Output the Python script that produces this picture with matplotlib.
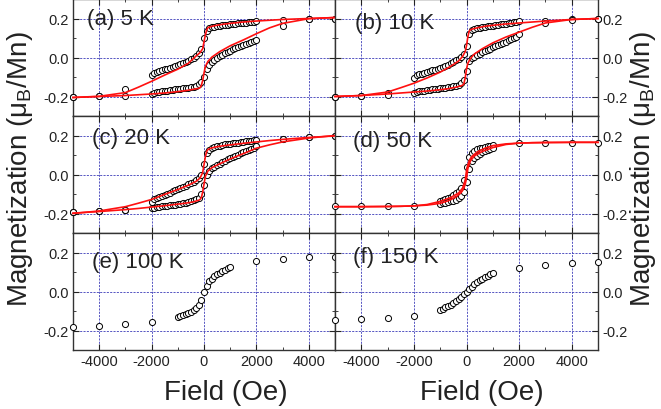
"""Hysteresis loops M(H) at 5-150 K, six stacked panels with shared field axis."""
import numpy as np
import matplotlib; matplotlib.use("Agg"); import matplotlib.pyplot as plt
from matplotlib.ticker import MultipleLocator, FormatStrFormatter

plt.rcParams["font.family"] = ["Liberation Sans", "DejaVu Sans"]
plt.rcParams["axes.unicode_minus"] = False

# ---- data ----
H_OUT = [-5000, -4000, -3000, 3000, 4000, 5000]
H_FAR = [-5000, -4000, -3000, -2000, 2000, 3000, 4000, 5000]
H_WIDE = [-2000, -1900, -1800, -1700, -1600, -1500, -1400, -1300, -1200, -1100, -1000,
          -900, -800, -700, -600, -500, -400, -300, -200, -100, 0,
          100, 200, 300, 400, 500, 600, 700, 800, 900, 1000,
          1100, 1200, 1300, 1400, 1500, 1600, 1700, 1800, 1900, 2000]
H_NARROW = [-1000, -900, -800, -700, -600, -500, -400, -300, -200, -100, 0,
            100, 200, 300, 400, 500, 600, 700, 800, 900, 1000]
FIT_H_UP = [-5000, -4000, -3000, -2500, -2000, -1500, -1000, -600, -300, -150, -50, 0, 50,
            100, 150, 200, 400, 700, 1000, 1500, 2000, 2500, 3000, 4000, 5000]
FIT_H_DN = [-5000, -4000, -3000, -2500, -2000, -1500, -1000, -700, -400, -200, -150, -100, -50,
            0, 50, 150, 300, 600, 1000, 1500, 2000, 2500, 3000, 4000, 5000]

# (a) 5 K
a_up_out = [-0.200, -0.198, -0.163, 0.190, 0.197, 0.200]
a_dn_out = [-0.200, -0.195, -0.198, 0.160, 0.195, 0.200]
a_up = [-0.090, -0.078, -0.073, -0.069, -0.065, -0.061, -0.057, -0.053, -0.048, -0.044, -0.039,
        -0.034, -0.029, -0.023, -0.017, -0.010, -0.002, 0.008, 0.022, 0.045, 0.100,
        0.138, 0.150, 0.155, 0.158, 0.161, 0.163, 0.165, 0.167, 0.169, 0.170,
        0.172, 0.173, 0.175, 0.176, 0.177, 0.179, 0.180, 0.181, 0.182, 0.185]
a_dn = [-0.185, -0.181, -0.178, -0.176, -0.174, -0.172, -0.170, -0.168, -0.166, -0.164, -0.162,
        -0.160, -0.158, -0.156, -0.154, -0.152, -0.149, -0.145, -0.138, -0.125, -0.100,
        -0.060, -0.036, -0.022, -0.012, -0.003, 0.006, 0.014, 0.021, 0.028, 0.035,
        0.042, 0.048, 0.054, 0.060, 0.066, 0.071, 0.076, 0.081, 0.086, 0.092]
a_fit_up = [-0.205, -0.199, -0.180, -0.152, -0.122, -0.090, -0.060, -0.030, 0.008, 0.025, 0.045, 0.080, 0.115,
            0.140, 0.153, 0.156, 0.163, 0.170, 0.175, 0.182, 0.187, 0.191, 0.195, 0.200, 0.205]
a_fit_dn = [-0.205, -0.200, -0.195, -0.191, -0.187, -0.182, -0.175, -0.170, -0.163, -0.158, -0.155, -0.143, -0.118,
            -0.080, -0.047, -0.020, 0.002, 0.030, 0.060, 0.090, 0.122, 0.152, 0.175, 0.199, 0.205]

# (b) 10 K
b_up_out = [-0.200, -0.196, -0.182, 0.185, 0.195, 0.200]
b_dn_out = [-0.200, -0.196, -0.193, 0.175, 0.193, 0.200]
b_up = [-0.104, -0.092, -0.087, -0.083, -0.079, -0.075, -0.071, -0.066, -0.062, -0.057, -0.052,
        -0.047, -0.042, -0.036, -0.030, -0.023, -0.015, -0.006, 0.005, 0.020, 0.060,
        0.118, 0.140, 0.146, 0.150, 0.153, 0.156, 0.158, 0.160, 0.162, 0.164,
        0.166, 0.168, 0.170, 0.172, 0.174, 0.176, 0.178, 0.180, 0.182, 0.186]
b_dn = [-0.182, -0.176, -0.174, -0.172, -0.170, -0.168, -0.166, -0.164, -0.162, -0.160, -0.158,
        -0.156, -0.154, -0.152, -0.150, -0.147, -0.144, -0.140, -0.133, -0.115, -0.070,
        -0.020, -0.005, 0.005, 0.013, 0.020, 0.027, 0.034, 0.040, 0.046, 0.052,
        0.058, 0.064, 0.070, 0.076, 0.082, 0.088, 0.094, 0.100, 0.106, 0.118]
b_fit_up = [-0.200, -0.195, -0.177, -0.155, -0.132, -0.105, -0.075, -0.045, -0.018, 0.005, 0.030, 0.060, 0.105,
            0.135, 0.142, 0.145, 0.152, 0.160, 0.165, 0.172, 0.177, 0.182, 0.187, 0.195, 0.200]
b_fit_dn = [-0.200, -0.195, -0.187, -0.182, -0.177, -0.172, -0.165, -0.160, -0.152, -0.145, -0.142, -0.135, -0.105,
            -0.060, -0.030, -0.005, 0.018, 0.045, 0.075, 0.105, 0.130, 0.155, 0.177, 0.195, 0.200]

# (c) 20 K
c_up_out = [-0.190, -0.187, -0.181, 0.182, 0.190, 0.200]
c_dn_out = [-0.190, -0.187, -0.181, 0.180, 0.190, 0.200]
c_up = [-0.140, -0.128, -0.122, -0.117, -0.111, -0.105, -0.099, -0.093, -0.087, -0.081, -0.075,
        -0.069, -0.063, -0.057, -0.050, -0.043, -0.036, -0.028, -0.018, 0.000, 0.055,
        0.110, 0.128, 0.136, 0.141, 0.145, 0.148, 0.151, 0.154, 0.156, 0.158,
        0.160, 0.162, 0.164, 0.166, 0.168, 0.170, 0.172, 0.174, 0.175, 0.177]
c_dn = [-0.174, -0.170, -0.168, -0.166, -0.164, -0.162, -0.160, -0.158, -0.156, -0.154, -0.152,
        -0.150, -0.147, -0.144, -0.141, -0.137, -0.133, -0.128, -0.120, -0.100, -0.052,
        0.000, 0.020, 0.032, 0.041, 0.049, 0.056, 0.063, 0.070, 0.077, 0.084,
        0.090, 0.096, 0.102, 0.108, 0.114, 0.120, 0.126, 0.132, 0.138, 0.146]
c_fit_up = [-0.200, -0.187, -0.165, -0.147, -0.128, -0.102, -0.077, -0.055, -0.035, -0.018, 0.010, 0.050, 0.090,
            0.118, 0.128, 0.132, 0.140, 0.147, 0.152, 0.160, 0.167, 0.174, 0.180, 0.190, 0.198]
c_fit_dn = [-0.198, -0.190, -0.180, -0.174, -0.167, -0.160, -0.152, -0.147, -0.140, -0.132, -0.128, -0.118, -0.090,
            -0.050, -0.010, 0.018, 0.035, 0.055, 0.080, 0.107, 0.135, 0.152, 0.167, 0.187, 0.200]

# (d) 50 K
d_out = [-0.163, -0.163, -0.163, -0.162, 0.160, 0.163, 0.163, 0.163]
d_up = [-0.138, -0.133, -0.127, -0.120, -0.113, -0.105, -0.096, -0.085, -0.070, -0.030, 0.040,
        0.090, 0.112, 0.122, 0.129, 0.134, 0.138, 0.141, 0.144, 0.147, 0.150]
d_dn = [-0.150, -0.147, -0.144, -0.141, -0.138, -0.134, -0.129, -0.122, -0.112, -0.090, -0.040,
        0.030, 0.070, 0.085, 0.096, 0.105, 0.113, 0.120, 0.127, 0.133, 0.138]
d_fit_up = [-0.165, -0.165, -0.164, -0.163, -0.161, -0.154, -0.138, -0.118, -0.095, -0.070, -0.030, 0.020, 0.050,
            0.070, 0.082, 0.092, 0.115, 0.135, 0.148, 0.157, 0.161, 0.163, 0.164, 0.165, 0.165]
d_fit_dn = [-0.165, -0.165, -0.164, -0.163, -0.161, -0.157, -0.148, -0.135, -0.115, -0.092, -0.082, -0.070, -0.050,
            -0.020, 0.030, 0.070, 0.095, 0.118, 0.138, 0.154, 0.161, 0.163, 0.164, 0.165, 0.165]

# (e) 100 K, (f) 150 K  (no hysteresis, no fit)
e_out = [-0.181, -0.176, -0.169, -0.157, 0.154, 0.169, 0.176, 0.178]
e_mid = [-0.132, -0.126, -0.121, -0.116, -0.110, -0.103, -0.095, -0.085, -0.070, -0.045, -0.005,
         0.030, 0.052, 0.066, 0.078, 0.088, 0.097, 0.105, 0.112, 0.119, 0.126]
f_out = [-0.146, -0.142, -0.137, -0.125, 0.123, 0.137, 0.144, 0.149]
f_mid = [-0.094, -0.088, -0.082, -0.076, -0.068, -0.060, -0.050, -0.040, -0.028, -0.015, -0.002,
         0.012, 0.025, 0.037, 0.048, 0.058, 0.066, 0.074, 0.082, 0.089, 0.096]

labels = ["(a) 5 K", "(b) 10 K", "(c) 20 K", "(d) 50 K", "(e) 100 K", "(f) 150 K"]

# ---- figure ----
fig = plt.figure(figsize=(6.61, 4.10), dpi=100)
W, Hh = 661, 410
col_x = [73, 335]; col_w = [262, 263]
row_top = [0, 117, 234]; row_h = 117
lab_pos = [(0.053, 0.83), (0.075, 0.80), (0.072, 0.815), (0.068, 0.79), (0.072, 0.755), (0.068, 0.80)]
mk = dict(ls="none", marker="o", ms=4.4, mfc="white", mec="black", mew=0.7, clip_on=False, zorder=3)
ln = dict(color="#ff1010", lw=1.2, clip_on=False, zorder=4)

axes = []
for i in range(6):
    r, c = divmod(i, 2)
    ax = fig.add_axes([col_x[c] / W, 1 - (row_top[r] + row_h) / Hh, col_w[c] / W, row_h / Hh])
    ax.set_xlim(-5000, 5000); ax.set_ylim(-0.3, 0.3)
    ax.xaxis.set_major_locator(MultipleLocator(2000)); ax.xaxis.set_minor_locator(MultipleLocator(1000))
    ax.yaxis.set_major_locator(MultipleLocator(0.2)); ax.yaxis.set_minor_locator(MultipleLocator(0.1))
    ax.yaxis.set_major_formatter(FormatStrFormatter("%.1f"))
    ax.grid(True, which="major", color="#3a3ab8", ls=(0, (2.5, 1.5)), lw=0.6)
    ax.set_axisbelow(True)
    ax.tick_params(which="both", direction="in", top=True, bottom=True, left=True, right=True,
                   labelsize=10.5, colors="#222222", pad=3)
    ax.tick_params(which="major", length=4); ax.tick_params(which="minor", length=2.5)
    ax.tick_params(labelleft=(c == 0), labelright=(c == 1), labelbottom=(r == 2))
    for s in ax.spines.values(): s.set_color("#333333"); s.set_linewidth(1.0)
    ax.text(*lab_pos[i], labels[i], transform=ax.transAxes, fontsize=16, va="center", ha="left", color="#222222")
    axes.append(ax)

for ax, up_o, dn_o, up, dn, fu, fd in [
        (axes[0], a_up_out, a_dn_out, a_up, a_dn, a_fit_up, a_fit_dn),
        (axes[1], b_up_out, b_dn_out, b_up, b_dn, b_fit_up, b_fit_dn),
        (axes[2], c_up_out, c_dn_out, c_up, c_dn, c_fit_up, c_fit_dn)]:
    ax.plot(H_OUT, up_o, **mk); ax.plot(H_OUT, dn_o, **mk)
    ax.plot(H_WIDE, up, **mk); ax.plot(H_WIDE, dn, **mk)
    ax.plot(FIT_H_UP, fu, **ln); ax.plot(FIT_H_DN, fd, **ln)

axes[3].plot(H_FAR, d_out, **mk)
axes[3].plot(H_NARROW, d_up, **mk); axes[3].plot(H_NARROW, d_dn, **mk)
axes[3].plot(FIT_H_UP, d_fit_up, **ln); axes[3].plot(FIT_H_DN, d_fit_dn, **ln)
axes[4].plot(H_FAR, e_out, **mk); axes[4].plot(H_NARROW, e_mid, **mk)
axes[5].plot(H_FAR, f_out, **mk); axes[5].plot(H_NARROW, f_mid, **mk)

ylab = "Magnetization (\u03bc$_\\mathregular{B}$/Mn)"
fig.text(0.030, 0.588, ylab, rotation=90, fontsize=20, ha="center", va="center", color="#222222")
fig.text(0.973, 0.588, ylab, rotation=90, fontsize=20, ha="center", va="center", color="#222222")
fig.text(0.342, 0.041, "Field (Oe)", fontsize=20, ha="center", va="center", color="#222222")
fig.text(0.729, 0.041, "Field (Oe)", fontsize=20, ha="center", va="center", color="#222222")
fig.savefig("out.png", dpi=100)
